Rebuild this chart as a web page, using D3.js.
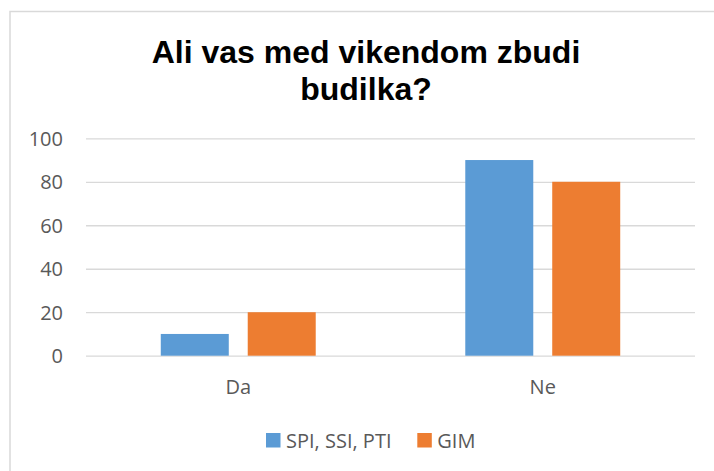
<!DOCTYPE html>
<html>
<head>
<meta charset="utf-8">
<script src="https://cdn.jsdelivr.net/npm/d3@7/dist/d3.min.js"></script>
<style>
  body { margin: 0; background: #fff; }
  svg { display: block; }
</style>
</head>
<body>
<svg id="chart"></svg>
<script>
var categories = ['Da', 'Ne'];
var seriesNames = ['SPI, SSI, PTI', 'GIM'];
var spiValues = [10, 90];
var gimValues = [20, 80];
var yTicks = [0, 20, 40, 60, 80, 100];
var titleLines = ['Ali vas med vikendom zbudi', 'budilka?'];

var colors = ['#5b9bd5', '#ed7d31'];

var width = 714,
    height = 471,
    margin = {top: 138.3, right: 19, bottom: 115.3, left: 86},
    innerWidth = width - margin.left - margin.right,
    innerHeight = height - margin.top - margin.bottom;

var labelFont = '"Open Sans", sans-serif';

var rows = categories.map(function (c, i) {
  return {cat: c, values: [spiValues[i], gimValues[i]]};
});

var svg = d3.select('#chart')
  .attr('width', width)
  .attr('height', height);

// chart area border, only top and left edges are inside the picture
svg.append('path')
  .attr('d', 'M10,' + height + 'V11.5H' + width)
  .attr('fill', 'none')
  .attr('stroke', '#d9d9d9')
  .attr('stroke-width', 1.5);

svg.append('text')
  .attr('x', 366)
  .attr('text-anchor', 'middle')
  .attr('font-family', '"Liberation Sans", Arial, sans-serif')
  .attr('font-weight', 'bold')
  .attr('font-size', 32)
  .attr('fill', '#000')
  .selectAll('tspan')
  .data(titleLines)
  .enter()
  .append('tspan')
  .attr('x', 366)
  .attr('y', (d, i) => 63 + i * 37)
  .text(d => d);

var g = svg.append('g')
  .attr('transform', 'translate(' + margin.left + ',' + margin.top + ')');

var yScale = d3.scaleLinear()
  .domain([0, 100])
  .range([innerHeight, 0]);

var x0 = d3.scaleBand()
  .domain(categories)
  .range([0, innerWidth])
  .padding(0);

var x1 = d3.scaleBand()
  .domain(d3.range(seriesNames.length))
  .range([0, x0.bandwidth()])
  .paddingInner(0.218)
  .paddingOuter(0.86);

// gridlines
var yAxis = d3.axisLeft(yScale)
  .tickValues(yTicks)
  .tickSize(-innerWidth)
  .tickPadding(23);

var yG = g.append('g')
  .attr('class', 'y axis')
  .call(yAxis)
  .attr('font-family', labelFont)
  .attr('font-size', 20);

yG.select('.domain').remove();
yG.selectAll('.tick line')
  .attr('stroke', '#d9d9d9')
  .attr('stroke-width', 1.3);
yG.selectAll('.tick text')
  .attr('dy', 7)
  .attr('fill', '#595959');

var groups = g.selectAll('.cat')
  .data(rows)
  .enter()
  .append('g')
  .attr('class', 'cat')
  .attr('transform', d => 'translate(' + x0(d.cat) + ',0)');

groups.selectAll('rect')
  .data(d => d.values)
  .enter()
  .append('rect')
  .attr('x', (d, i) => x1(i))
  .attr('y', d => yScale(d))
  .attr('width', x1.bandwidth())
  .attr('height', d => innerHeight - yScale(d))
  .attr('fill', (d, i) => colors[i]);

var xAxis = d3.axisBottom(x0)
  .tickSize(0)
  .tickPadding(24);

var xG = g.append('g')
  .attr('class', 'x axis')
  .attr('transform', 'translate(0,' + innerHeight + ')')
  .call(xAxis)
  .attr('font-family', labelFont)
  .attr('font-size', 20);

xG.select('.domain').remove();
xG.selectAll('.tick text')
  .attr('dy', 14)
  .attr('fill', '#595959');

// legend
var legendX = [266, 417.3];
var legend = svg.append('g')
  .attr('class', 'legend')
  .attr('font-family', labelFont)
  .attr('font-size', 20)
  .selectAll('g')
  .data(seriesNames)
  .enter()
  .append('g')
  .attr('transform', (d, i) => 'translate(' + legendX[i] + ',433)');

legend.append('rect')
  .attr('width', 14.5)
  .attr('height', 14.5)
  .attr('fill', (d, i) => colors[i]);

legend.append('text')
  .attr('x', 20)
  .attr('y', 14.5)
  .attr('fill', '#595959')
  .text(d => d);
</script>
</body>
</html>
